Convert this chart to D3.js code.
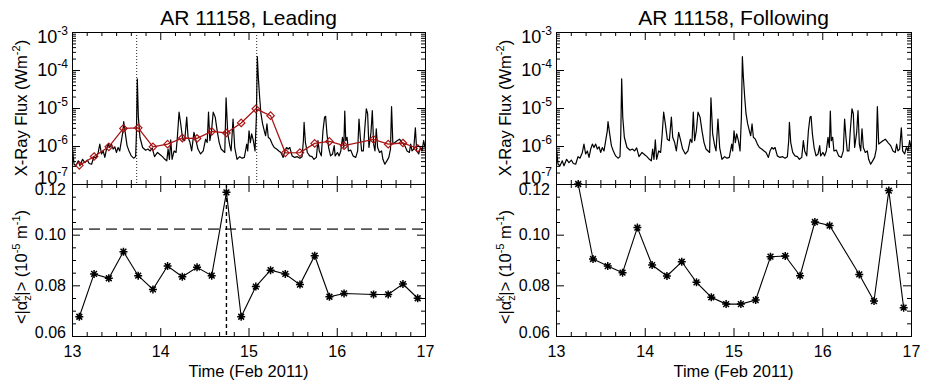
<!DOCTYPE html>
<html>
<head>
<meta charset="utf-8">
<script src="https://cdn.jsdelivr.net/npm/d3@7"></script>
<style>
  body { margin: 0; background: #fff; }
  svg { font-family: 'Liberation Sans', Arial, Helvetica, sans-serif; }
</style>
</head>
<body>
<svg id="chart" width="926" height="382"></svg>
<script>
// ---- data ----
const dayTicks = [13, 14, 15, 16, 17];
const fluxTicks = [1e-7, 1e-6, 1e-5, 1e-4, 1e-3];
const fluxTickExp = ['-7', '-6', '-5', '-4', '-3'];
const alphaTicks = [0.06, 0.08, 0.10, 0.12];
const alphaTickLabels = ['0.06', '0.08', '0.10', '0.12'];

// times of the two big flares (dotted lines, leading panel)
const flareTimes = [13.733, 15.093];

// leading polarity, 4-hourly samples
const leadingTime = [13.083, 13.25, 13.417, 13.583, 13.75, 13.917, 14.083, 14.25, 14.417, 14.583, 14.75, 14.917,
  15.083, 15.25, 15.417, 15.583, 15.75, 15.917, 16.083, 16.417, 16.583, 16.75, 16.917];
const leadingAlpha = [0.0676, 0.0845, 0.0828, 0.0933, 0.0838, 0.0784, 0.0876, 0.0834, 0.0871, 0.0838, 0.1167, 0.0676,
  0.0795, 0.0860, 0.0845, 0.0803, 0.0917, 0.0755, 0.0768, 0.0764, 0.0764, 0.0805, 0.0749];
// mean GOES flux over each interval (red diamonds)
const leadingMeanFlux = [3.1e-7, 5.3e-7, 9.5e-7, 2.9e-6, 3.0e-6, 9.5e-7, 1.12e-6, 1.62e-6, 1.58e-6, 2.43e-6, 2.2e-6, 4.05e-6,
  9.5e-6, 6.3e-6, 6.6e-7, 6.7e-7, 1.17e-6, 1.32e-6, 1.02e-6, 1.49e-6, 1.12e-6, 1.2e-6, 8.6e-7];
const leadingThreshold = 0.1022;
const leadingPeakTime = 14.75;

// following polarity
const followingTime = [13.25, 13.417, 13.583, 13.75, 13.917, 14.083, 14.25, 14.417, 14.583, 14.75, 14.917,
  15.083, 15.25, 15.417, 15.583, 15.75, 15.917, 16.083, 16.417, 16.583, 16.75, 16.917];
const followingAlpha = [0.1200, 0.0904, 0.0876, 0.0850, 0.1028, 0.0880, 0.0837, 0.0893, 0.0812, 0.0753, 0.0726,
  0.0726, 0.0742, 0.0913, 0.0916, 0.0838, 0.1050, 0.1036, 0.0843, 0.0738, 0.1174, 0.0712];

// GOES 1-8 A curve: [day of Feb 2011, log10 flux (W m^-2)]
const goesSamples = [
  [13.000, -6.66], [13.008, -6.13], [13.023, -6.48], [13.045, -6.52], [13.071, -6.39], [13.090, -6.52],
  [13.120, -6.35], [13.146, -6.44], [13.173, -6.37], [13.195, -6.46], [13.222, -6.48], [13.248, -6.28],
  [13.270, -6.32], [13.297, -6.17], [13.315, -5.95], [13.334, -6.21], [13.353, -6.13], [13.372, -6.30],
  [13.391, -6.08], [13.410, -5.95], [13.428, -6.04], [13.447, -5.95], [13.466, -6.08], [13.485, -6.02],
  [13.503, -6.17], [13.522, -6.04], [13.541, -6.13], [13.560, -5.86], [13.578, -5.60], [13.586, -5.36],
  [13.605, -5.68], [13.624, -5.99], [13.646, -6.13], [13.672, -6.26], [13.699, -6.32], [13.721, -6.28],
  [13.730, -5.68], [13.740, -4.23], [13.752, -5.24], [13.770, -5.77], [13.800, -6.04], [13.834, -6.11],
  [13.860, -6.08], [13.886, -6.13], [13.909, -6.05], [13.935, -6.28],
  [13.969, -6.17], [13.999, -6.23], [14.025, -6.28], [14.052, -6.35], [14.074, -6.39], [14.089, -6.08],
  [14.104, -6.35], [14.119, -5.84], [14.134, -6.35], [14.157, -6.13], [14.179, -6.17], [14.194, -5.77],
  [14.213, -5.11], [14.232, -5.42], [14.254, -5.82], [14.277, -5.86], [14.300, -5.24], [14.315, -5.77],
  [14.337, -5.91], [14.356, -6.13], [14.382, -5.64], [14.405, -5.86], [14.427, -6.08], [14.457, -6.21],
  [14.487, -6.13], [14.514, -5.82], [14.532, -5.91], [14.547, -5.11], [14.562, -5.86], [14.581, -5.60],
  [14.600, -5.11], [14.623, -5.24], [14.645, -5.60], [14.668, -5.91], [14.690, -6.08], [14.713, -6.13],
  [14.731, -6.17], [14.746, -4.73], [14.765, -5.68], [14.788, -5.99], [14.803, -6.13], [14.825, -5.29],
  [14.844, -6.04], [14.870, -6.35], [14.901, -6.28], [14.927, -6.32], [14.953, -6.30],
  [14.980, -5.95], [14.991, -6.13], [15.006, -5.60], [15.021, -5.91], [15.036, -5.68], [15.055, -5.86],
  [15.074, -6.13], [15.089, -5.24], [15.100, -3.65], [15.111, -4.18], [15.126, -4.71], [15.141, -5.15],
  [15.160, -5.42], [15.179, -5.60], [15.194, -5.73], [15.209, -5.42], [15.224, -5.77], [15.246, -5.82],
  [15.269, -5.95], [15.292, -6.04], [15.318, -6.08], [15.344, -6.13], [15.367, -6.17], [15.393, -6.30],
  [15.412, -6.13], [15.431, -6.04], [15.449, -6.08], [15.468, -6.04], [15.494, -6.26], [15.524, -6.30],
  [15.554, -6.28], [15.581, -6.32], [15.607, -6.28], [15.622, -5.86], [15.630, -5.38], [15.645, -5.91],
  [15.667, -6.17], [15.693, -6.26], [15.720, -6.28], [15.742, -6.35], [15.769, -6.30], [15.787, -5.86],
  [15.802, -6.13], [15.825, -6.26], [15.844, -5.60], [15.862, -5.24], [15.874, -5.22], [15.889, -5.68],
  [15.908, -6.04], [15.930, -6.26], [15.953, -6.21],
  [15.971, -5.99], [15.982, -6.26], [16.008, -6.17], [16.027, -6.26], [16.046, -6.13], [16.065, -5.77],
  [16.080, -6.04], [16.091, -5.08], [16.102, -5.86], [16.117, -5.77], [16.132, -6.13], [16.159, -6.11],
  [16.185, -6.26], [16.215, -6.30], [16.237, -6.13], [16.252, -5.29], [16.267, -5.77], [16.282, -6.13],
  [16.301, -6.13], [16.316, -5.60], [16.335, -5.02], [16.350, -5.15], [16.365, -6.04], [16.388, -5.64],
  [16.403, -5.07], [16.418, -5.95], [16.433, -6.13], [16.448, -5.55], [16.463, -6.04], [16.485, -6.17],
  [16.508, -6.13], [16.523, -6.35], [16.545, -6.48], [16.568, -6.39], [16.590, -6.30], [16.609, -6.08],
  [16.621, -4.96], [16.636, -5.95], [16.658, -5.91], [16.684, -5.86], [16.711, -5.82], [16.741, -5.91],
  [16.771, -5.99], [16.797, -6.13], [16.823, -6.17], [16.838, -5.95], [16.853, -6.13], [16.872, -6.08],
  [16.891, -5.52], [16.906, -6.13], [16.929, -6.21], [16.947, -6.04], [16.966, -6.13], [16.985, -5.86],
  [17.000, -6.04]
];

// ---- layout ----
const svg = d3.select('#chart');
const font = "'Liberation Sans', Arial, Helvetica, sans-serif";
const topY = 32, midY = 184, botY = 336;
const darkRed = '#a81414';

// IDL-like asterisk (plus + cross)
const asterisk = {
  draw(ctx, size) {
    const r = Math.sqrt(size) / 2, d = r * 0.72;
    ctx.moveTo(-r, 0); ctx.lineTo(r, 0);
    ctx.moveTo(0, -r); ctx.lineTo(0, r);
    ctx.moveTo(-d, -d); ctx.lineTo(d, d);
    ctx.moveTo(-d, d); ctx.lineTo(d, -d);
  }
};
const diamond = {
  draw(ctx, size) {
    const r = Math.sqrt(size) / 2;
    ctx.moveTo(0, -r); ctx.lineTo(r, 0); ctx.lineTo(0, r); ctx.lineTo(-r, 0); ctx.closePath();
  }
};

const minorDays = d3.range(1, 24).filter(i => i % 6 !== 0).map(i => 13 + i / 6);
const minorFlux = d3.range(-7, -3).flatMap(k => d3.range(2, 10).map(m => m * Math.pow(10, k)));
const minorAlpha = d3.range(1, 12).filter(i => i % 4 !== 0).map(i => 0.06 + i * 0.005);

const panels = [
  {id: 'lead', title: 'AR 11158, Leading', left: 72, right: 425, time: leadingTime, alpha: leadingAlpha,
    meanFlux: leadingMeanFlux, flares: flareTimes, threshold: leadingThreshold, peak: leadingPeakTime},
  {id: 'foll', title: 'AR 11158, Following', left: 556, right: 911, time: followingTime, alpha: followingAlpha}
];

function styleAxis(g, size) {
  g.attr('font-size', size || 16).attr('font-family', font);
  g.selectAll('line, path').attr('stroke', '#000');
  g.selectAll('text').attr('fill', '#000');
}

function addAxis(axis, tx, ty, size) {
  const g = svg.append('g').attr('transform', `translate(${tx},${ty})`).call(axis);
  styleAxis(g, size);
  return g;
}

panels.forEach(p => {
  const x = d3.scaleLinear().domain([13, 17]).range([p.left, p.right]);
  const yF = d3.scaleLog().domain([1e-7, 1e-3]).range([midY, topY]);
  const yA = d3.scaleLinear().domain([0.06, 0.12]).range([botY, midY]);
  const mid = (p.left + p.right) / 2;

  svg.append('clipPath').attr('id', 'clipTop-' + p.id).append('rect')
    .attr('x', p.left).attr('y', topY).attr('width', p.right - p.left).attr('height', midY - topY);
  svg.append('clipPath').attr('id', 'clipBot-' + p.id).append('rect')
    .attr('x', p.left).attr('y', midY).attr('width', p.right - p.left).attr('height', botY - midY);

  // title
  svg.append('text').attr('x', mid).attr('y', 25).attr('text-anchor', 'middle')
    .attr('font-size', 21).attr('fill', '#000').text(p.title);

  // ---- top panel: GOES flux ----
  const top = svg.append('g').attr('clip-path', `url(#clipTop-${p.id})`);
  if (p.flares) {
    top.selectAll('line.flare').data(p.flares).join('line').attr('class', 'flare')
      .attr('x1', d => x(d)).attr('x2', d => x(d)).attr('y1', topY).attr('y2', midY)
      .attr('stroke', '#222').attr('stroke-width', 1).attr('stroke-dasharray', '1,2');
  }
  const goesLine = d3.line().x(d => x(d[0])).y(d => yF(Math.pow(10, d[1])));
  top.append('path').datum(goesSamples).attr('d', goesLine)
    .attr('fill', 'none').attr('stroke', '#000').attr('stroke-width', 1.2).attr('stroke-linejoin', 'round');

  if (p.meanFlux) {
    const pts = p.time.map((t, i) => [t, p.meanFlux[i]]);
    top.append('path').datum(pts).attr('d', d3.line().x(d => x(d[0])).y(d => yF(d[1])))
      .attr('fill', 'none').attr('stroke', darkRed).attr('stroke-width', 1.3);
    top.selectAll('path.dia').data(pts).join('path').attr('class', 'dia')
      .attr('transform', d => `translate(${x(d[0])},${yF(d[1])})`)
      .attr('d', d3.symbol().type(diamond).size(56))
      .attr('fill', 'none').attr('stroke', darkRed).attr('stroke-width', 1.2);
  }

  // ---- bottom panel: alpha ----
  const bot = svg.append('g');
  const bclip = bot.append('g').attr('clip-path', `url(#clipBot-${p.id})`);
  if (p.threshold) {
    bclip.append('line').attr('x1', p.left).attr('x2', p.right)
      .attr('y1', yA(p.threshold)).attr('y2', yA(p.threshold))
      .attr('stroke', '#555').attr('stroke-width', 1.6).attr('stroke-dasharray', '11,6');
    bclip.append('line').attr('x1', x(p.peak)).attr('x2', x(p.peak))
      .attr('y1', midY).attr('y2', botY)
      .attr('stroke', '#000').attr('stroke-width', 1.4).attr('stroke-dasharray', '4,3');
  }
  const apts = p.time.map((t, i) => [t, p.alpha[i]]);
  bclip.append('path').datum(apts).attr('d', d3.line().x(d => x(d[0])).y(d => yA(d[1])))
    .attr('fill', 'none').attr('stroke', '#000').attr('stroke-width', 1.1);
  bot.selectAll('path.star').data(apts).join('path').attr('class', 'star')
    .attr('transform', d => `translate(${x(d[0])},${yA(d[1])})`)
    .attr('d', d3.symbol().type(asterisk).size(64))
    .attr('fill', 'none').attr('stroke', '#000').attr('stroke-width', 1.5);

  // ---- axes, ticks pointing inward ----
  const noLab = () => '';
  [[topY, d3.axisTop], [midY, d3.axisBottom], [midY, d3.axisTop]].forEach(([yy, mk]) => {
    addAxis(mk(x).tickValues(dayTicks).tickSize(-8).tickSizeOuter(0).tickFormat(noLab), 0, yy);
    addAxis(mk(x).tickValues(minorDays).tickSize(-4).tickSizeOuter(0).tickFormat(noLab), 0, yy);
  });
  addAxis(d3.axisBottom(x).tickValues(dayTicks).tickSize(-8).tickSizeOuter(0).tickPadding(10)
    .tickFormat(d3.format('d')), 0, botY);
  addAxis(d3.axisBottom(x).tickValues(minorDays).tickSize(-4).tickSizeOuter(0).tickFormat(noLab), 0, botY);

  // flux y axes
  const gF = addAxis(d3.axisLeft(yF).tickValues(fluxTicks).tickSize(-8).tickSizeOuter(0).tickPadding(4)
    .tickFormat(() => '10'), p.left, 0, 18);
  gF.selectAll('.tick text').each(function (d, i) {
    const t = d3.select(this);
    t.append('tspan').attr('dy', -8).attr('font-size', 12).text(fluxTickExp[i]);
    if (i === 0) t.attr('transform', 'translate(0,-6)');
    if (i === fluxTicks.length - 1) t.attr('transform', 'translate(0,5)');
  });
  addAxis(d3.axisLeft(yF).tickValues(minorFlux).tickSize(-4).tickSizeOuter(0).tickFormat(noLab), p.left, 0);
  addAxis(d3.axisRight(yF).tickValues(fluxTicks).tickSize(-8).tickSizeOuter(0).tickFormat(noLab), p.right, 0);
  addAxis(d3.axisRight(yF).tickValues(minorFlux).tickSize(-4).tickSizeOuter(0).tickFormat(noLab), p.right, 0);

  // alpha y axes
  const gA = addAxis(d3.axisLeft(yA).tickValues(alphaTicks).tickSize(-8).tickSizeOuter(0).tickPadding(6)
    .tickFormat((d, i) => alphaTickLabels[i]), p.left, 0);
  gA.selectAll('.tick text').each(function (d, i) {
    if (i === 0) d3.select(this).attr('transform', 'translate(0,-4)');
    if (i === alphaTicks.length - 1) d3.select(this).attr('transform', 'translate(0,5)');
  });
  addAxis(d3.axisLeft(yA).tickValues(minorAlpha).tickSize(-4).tickSizeOuter(0).tickFormat(noLab), p.left, 0);
  addAxis(d3.axisRight(yA).tickValues(alphaTicks).tickSize(-8).tickSizeOuter(0).tickFormat(noLab), p.right, 0);
  addAxis(d3.axisRight(yA).tickValues(minorAlpha).tickSize(-4).tickSizeOuter(0).tickFormat(noLab), p.right, 0);

  // axis titles
  svg.append('text').attr('x', mid).attr('y', 377).attr('text-anchor', 'middle')
    .attr('font-size', 16.5).attr('fill', '#000').text('Time (Feb 2011)');

  const fl = svg.append('text').attr('transform', `translate(${p.left - 45},${(topY + midY) / 2}) rotate(-90)`)
    .attr('text-anchor', 'middle').attr('font-size', 16.5).attr('fill', '#000');
  fl.append('tspan').text('X-Ray Flux (Wm');
  fl.append('tspan').attr('dy', -7).attr('font-size', 11).text('-2');
  fl.append('tspan').attr('dy', 7).text(')');

  const al = svg.append('text').attr('transform', `translate(${p.left - 45},${(midY + botY) / 2 + 7}) rotate(-90)`)
    .attr('text-anchor', 'middle').attr('font-size', 16.5).attr('fill', '#000');
  al.append('tspan').text('<|\u03b1');
  al.append('tspan').attr('dy', 4).attr('font-size', 11).text('z');
  al.append('tspan').attr('dx', -6).attr('dy', -11).attr('font-size', 11).text('k');
  al.append('tspan').attr('dy', 7).text('|> (10');
  al.append('tspan').attr('dy', -7).attr('font-size', 11).text('-5');
  al.append('tspan').attr('dy', 7).text(' m');
  al.append('tspan').attr('dy', -7).attr('font-size', 11).text('-1');
  al.append('tspan').attr('dy', 7).text(')');
});
</script>
</body>
</html>
